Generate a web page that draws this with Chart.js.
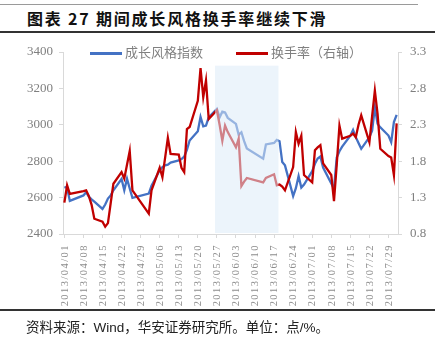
<!DOCTYPE html>
<html>
<head>
<meta charset="utf-8">
<script src="https://cdn.jsdelivr.net/npm/chart.js@4"></script>
<style>
  body { margin: 0; background: #fff; }
  #wrap { position: relative; width: 442px; height: 342px; overflow: hidden; }
  #chart { position: absolute; left: 0; top: 0; }
  .rule { position: absolute; left: 0; }
  #title { position: absolute; left: 27px; top: 9px; font: bold 16px "Noto Sans CJK SC", sans-serif; letter-spacing: 1.8px; color: #111; line-height: 19px; white-space: nowrap; }
  #source { position: absolute; left: 26px; top: 319px; font: 13.5px "Liberation Sans", "Noto Sans CJK SC", sans-serif; color: #222; line-height: 18px; white-space: nowrap; }
  .lg { position: absolute; top: 45px; font: 13px "Liberation Serif", "Noto Sans CJK SC", serif; color: #808080; line-height: 16px; white-space: nowrap; }
  .lg i { display: inline-block; width: 32px; height: 3px; vertical-align: middle; margin-right: 3px; position: relative; top: -1px; }
</style>
</head>
<body>
<div id="wrap">
  <div class="rule" style="top:4px;width:418px;height:1px;background:#9a9a9a"></div>
  <div id="title">图表 27 期间成长风格换手率继续下滑</div>
  <div class="rule" style="top:31px;width:435px;height:1.5px;background:#333"></div>
  <canvas id="chart" width="442" height="342"></canvas>
  <div id="legend"></div>
  <div class="rule" style="top:309px;width:435px;height:1.5px;background:#333"></div>
  <div id="source">资料来源：Wind，华安证券研究所。单位：点/%。</div>
</div>
<script>
// trading days shown on the chart
const tradeDates = [
  "2013/04/01", "2013/04/02", "2013/04/03", "2013/04/08", "2013/04/09", "2013/04/10", "2013/04/11", "2013/04/12",
  "2013/04/15", "2013/04/16", "2013/04/17", "2013/04/18", "2013/04/19", "2013/04/22", "2013/04/23", "2013/04/24",
  "2013/04/25", "2013/04/26", "2013/05/02", "2013/05/03", "2013/05/06", "2013/05/07", "2013/05/08", "2013/05/09",
  "2013/05/10", "2013/05/13", "2013/05/14", "2013/05/15", "2013/05/16", "2013/05/17", "2013/05/20", "2013/05/21",
  "2013/05/22", "2013/05/23", "2013/05/24", "2013/05/27", "2013/05/28", "2013/05/29", "2013/05/30", "2013/05/31",
  "2013/06/03", "2013/06/04", "2013/06/05", "2013/06/06", "2013/06/07", "2013/06/13", "2013/06/14", "2013/06/17",
  "2013/06/18", "2013/06/19", "2013/06/20", "2013/06/21", "2013/06/24", "2013/06/25", "2013/06/26", "2013/06/27",
  "2013/06/28", "2013/07/01", "2013/07/02", "2013/07/03", "2013/07/04", "2013/07/05", "2013/07/08", "2013/07/09",
  "2013/07/10", "2013/07/11", "2013/07/12", "2013/07/15", "2013/07/16", "2013/07/17", "2013/07/18", "2013/07/19",
  "2013/07/22", "2013/07/23", "2013/07/24", "2013/07/25", "2013/07/26", "2013/07/29", "2013/07/30", "2013/07/31",
  "2013/08/01"
];

// 成长风格指数 (left axis)
const growthIndex = [
  2658, 2655, 2582, 2612, 2630, 2605, 2590, 2578,
  2538, 2562, 2595, 2612, 2640, 2702, 2640, 2704,
  2650, 2598, 2622, 2665, 2750, 2768, 2777, 2781,
  2792, 2804, 2812, 2825, 2862, 2914, 2965, 3043,
  2992, 2996, 3041, 3087, 3041, 3072, 3068, 3038,
  3005, 2945, 2959, 2910, 2870, 2814, 2892, 2900,
  2917, 2910, 2795, 2777, 2608, 2652, 2718, 2655,
  2672, 2745, 2786, 2815, 2826, 2765, 2678, 2650,
  2820, 2855, 2880, 2940, 2972, 2932, 2900, 2868,
  2932, 2968, 3096, 3005, 2986, 2941, 2905, 3015,
  3055
];

// 换手率 (right axis, %)
const turnover = [
  1.23, 1.47, 1.35, 1.39, 1.40, 1.32, 1.20, 1.01,
  0.97, 0.90, 0.95, 1.22, 1.49, 1.65, 1.56, 1.75,
  1.94, 1.40, 1.08, 1.40, 1.71, 1.58, 1.85, 2.12,
  1.90, 1.89, 1.71, 1.65, 2.24, 2.27, 2.63, 3.08,
  2.68, 2.91, 2.38, 2.50, 2.30, 2.08, 2.29, 2.20,
  1.99, 2.11, 1.46, 1.52, 1.57, 1.51, 1.57, 1.62,
  1.47, 1.48, 1.45, 1.40, 1.72, 2.20, 2.04, 2.15,
  1.61, 1.51, 1.95, 1.99, 2.02, 1.77, 1.61, 1.25,
  1.75, 2.29, 2.11, 2.15, 2.18, 2.13, 2.30, 2.43,
  2.06, 2.42, 2.77, 2.45, 1.97, 1.87, 1.85, 1.61,
  2.32
];

// weekly tick labels on the date axis
const weekLabels = [
  "2013/04/01", "2013/04/08", "2013/04/15", "2013/04/22", "2013/04/29", "2013/05/06",
  "2013/05/13", "2013/05/20", "2013/05/27", "2013/06/03", "2013/06/10", "2013/06/17",
  "2013/06/24", "2013/07/01", "2013/07/08", "2013/07/15", "2013/07/22", "2013/07/29"
];

const seriesNames = ["成长风格指数", "换手率（右轴）"];
const seriesColors = ["#4472C4", "#C00000"];

// highlighted period (dates) and its top on the left axis
const shadeFrom = "2013/05/26";
const shadeTo = "2013/06/19";
const shadeTop = 3325;

// day offset from the first date
function dayNo(s) {
  const p = s.split("/").map(Number);
  const p0 = tradeDates[0].split("/").map(Number);
  return (Date.UTC(p[0], p[1] - 1, p[2]) - Date.UTC(p0[0], p0[1] - 1, p0[2])) / 86400000;
}

const growthPoints = tradeDates.map((d, i) => ({ x: dayNo(d), y: growthIndex[i] }));
const turnoverPoints = tradeDates.map((d, i) => ({ x: dayNo(d), y: turnover[i] }));
const lastDay = dayNo(tradeDates[tradeDates.length - 1]);

// legend
const legend = document.getElementById("legend");
[90, 236].forEach((left, i) => {
  const el = document.createElement("div");
  el.className = "lg";
  el.style.left = left + "px";
  el.innerHTML = '<i style="background:' + seriesColors[i] + '"></i>' + seriesNames[i];
  legend.appendChild(el);
});

// light blue box drawn over the lines for the highlighted period
const shadePlugin = {
  id: "shade",
  afterDatasetsDraw(chart) {
    const { ctx, scales } = chart;
    const x1 = scales.x.getPixelForValue(dayNo(shadeFrom) + 0.3);
    const x2 = scales.x.getPixelForValue(dayNo(shadeTo) - 0.4);
    const top = scales.y.getPixelForValue(shadeTop);
    const bottom = chart.chartArea.bottom - 1;
    ctx.save();
    ctx.fillStyle = "rgba(221,235,247,0.55)";
    ctx.fillRect(x1, top, x2 - x1, bottom - top);
    ctx.restore();
  }
};

// vertical date labels, spaced out like the original
const dateLabelPlugin = {
  id: "dateLabels",
  afterDraw(chart) {
    const { ctx, scales, chartArea } = chart;
    ctx.save();
    ctx.fillStyle = "#8c8c8c";
    ctx.font = "10.5px 'Liberation Serif', serif";
    ctx.letterSpacing = "1.45px";
    ctx.textAlign = "right";
    ctx.textBaseline = "middle";
    weekLabels.forEach((w) => {
      const x = scales.x.getPixelForValue(dayNo(w));
      ctx.save();
      ctx.translate(x + 0.5, chartArea.bottom + 10);
      ctx.rotate(-Math.PI / 2);
      ctx.fillText(w, 0, 0);
      ctx.restore();
    });
    ctx.restore();
  }
};

const tickFont = { family: "'Liberation Serif', serif", size: 13 };
const axisGray = "#d9d9d9";

new Chart(document.getElementById("chart"), {
  type: "line",
  data: {
    datasets: [
      {
        label: seriesNames[0],
        data: growthPoints,
        borderColor: seriesColors[0],
        borderWidth: 2.3,
        pointRadius: 0,
        yAxisID: "y",
        order: 1,
      },
      {
        label: seriesNames[1],
        data: turnoverPoints,
        borderColor: seriesColors[1],
        borderWidth: 2.3,
        pointRadius: 0,
        yAxisID: "y1",
        order: 0,
      },
    ],
  },
  options: {
    responsive: false,
    animation: false,
    layout: { padding: { top: 52, left: 0, right: 0, bottom: 0 } },
    plugins: { legend: { display: false }, tooltip: { enabled: false } },
    scales: {
      x: {
        type: "linear",
        min: -0.5,
        max: lastDay + 0.5,
        afterBuildTicks: (scale) => {
          scale.ticks = weekLabels.map((w) => ({ value: dayNo(w) }));
        },
        afterFit: (scale) => { scale.height = 108; },
        ticks: { display: false, autoSkip: false },
        grid: { drawOnChartArea: false, tickLength: 4, color: axisGray },
        border: { color: axisGray },
      },
      y: {
        position: "left",
        min: 2400,
        max: 3400,
        afterFit: (scale) => { scale.width = 63; },
        ticks: { stepSize: 200, padding: 6, color: "#7f7f7f", font: tickFont, callback: (v) => String(v) },
        grid: { drawOnChartArea: false, tickLength: 4, color: axisGray },
        border: { color: axisGray },
      },
      y1: {
        position: "right",
        min: 0.8,
        max: 3.3,
        afterFit: (scale) => { scale.width = 44; },
        ticks: { stepSize: 0.5, padding: 8, color: "#7f7f7f", font: tickFont, callback: (v) => v.toFixed(1) },
        grid: { drawOnChartArea: false, tickLength: 4, color: axisGray },
        border: { color: axisGray },
      },
    },
  },
  plugins: [shadePlugin, dateLabelPlugin],
});
</script>
</body>
</html>
